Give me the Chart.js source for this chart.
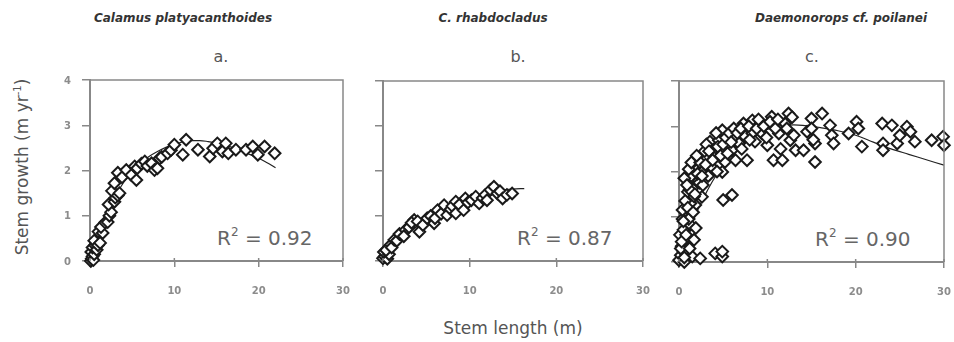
<!DOCTYPE html>
<html>
<head>
<meta charset="utf-8">
<script src="https://cdn.jsdelivr.net/npm/chart.js@4.4.1/dist/chart.umd.min.js"></script>
<style>
  html, body { margin:0; padding:0; background:#fff; }
  #wrap { position:relative; width:954px; height:342px; overflow:hidden; background:#fff; font-family:"DejaVu Sans", Verdana, sans-serif; }
  .abs { position:absolute; white-space:nowrap; }
  .sp { font-weight:bold; font-style:italic; font-size:12px; color:#333; transform:translateX(-50%); }
  .sub { font-size:16px; color:#555; transform:translateX(-50%); }
  .r2 { font-size:20px; color:#666; line-height:24px; }
  .r2 sup { font-size:12px; vertical-align:0; position:relative; top:-9px; }
  canvas { position:absolute; }
</style>
</head>
<body>
<div id="wrap">
  <div class="abs sp" style="left:183px; top:11px;">Calamus platyacanthoides</div>
  <div class="abs sp" style="left:493px; top:11px;">C. rhabdocladus</div>
  <div class="abs sp" style="left:841px; top:11px;">Daemonorops cf. poilanei</div>
  <div class="abs sub" style="left:221px; top:47px;">a.</div>
  <div class="abs sub" style="left:518px; top:47px;">b.</div>
  <div class="abs sub" style="left:812px; top:47px;">c.</div>

  <div class="abs" style="left:22px; top:167px; font-size:17px; color:#555; transform:translate(-50%,-50%) rotate(-90deg);">Stem growth (m yr<span style="font-size:10px; position:relative; top:-7px;">-1</span>)</div>
  <div class="abs" style="left:513px; top:318px; font-size:17px; color:#555; transform:translateX(-50%);">Stem length (m)</div>

  <div class="abs r2" style="left:217px; top:226px;">R<sup>2</sup> = 0.92</div>
  <div class="abs r2" style="left:517px; top:226px;">R<sup>2</sup> = 0.87</div>
  <div class="abs r2" style="left:815px; top:227px;">R<sup>2</sup> = 0.90</div>

  <canvas id="ca" width="315" height="240" style="left:40px; top:70px; width:315px; height:240px;"></canvas>
  <canvas id="cb" width="322" height="240" style="left:333px; top:70px; width:322px; height:240px;"></canvas>
  <canvas id="cc" width="325" height="240" style="left:629px; top:70px; width:325px; height:240px;"></canvas>
</div>
<script>
// ---------- DATA ----------
const xTicks = [0, 10, 20, 30];
const yTicks = [0, 1, 2, 3, 4];

// Panel a: Calamus platyacanthoides
const ptsA_x = [0.1,0.2,0.3,0.15,0.4,0.5,0.3,0.6,0.8,0.5,0.95,1.2,1.0,1.5,1.3,1.8,2.1,2.3,2.5,2.2,2.9,3.0,2.6,3.3,3.5,2.9,3.3,3.8,4.3,4.9,5.3,5.5,5.6,6.1,6.5,6.8,7.3,7.65,8.0,8.25,8.5,9.2,9.6,10.0,11.0,11.4,12.8,14.2,14.6,15.1,15.7,16.1,16.4,17.3,18.5,19.3,19.9,20.7,21.9];
const ptsA_y = [0.0,0.05,0.1,0.2,0.02,0.15,0.3,0.35,0.25,0.45,0.35,0.4,0.65,0.62,0.75,0.85,0.86,1.0,1.08,1.25,1.31,1.4,1.55,1.45,1.5,1.72,1.95,1.85,2.01,1.9,2.09,1.79,2.05,2.15,2.2,2.1,2.16,2.01,2.05,2.27,2.3,2.38,2.45,2.57,2.35,2.68,2.46,2.31,2.49,2.6,2.42,2.6,2.38,2.46,2.46,2.53,2.35,2.53,2.38];
const fitA_x = [0,0.5,1,2,3,4,5,6,7,8,9,10,11,12,13,14,15,16,17,18,19,20,21,22];
const fitA_y = [0,0.3,0.58,1.05,1.43,1.74,1.98,2.17,2.31,2.42,2.51,2.58,2.63,2.66,2.66,2.64,2.61,2.56,2.5,2.43,2.35,2.27,2.17,2.06];

// Panel b: C. rhabdocladus
const ptsB_x = [0.0,0.2,0.5,0.1,0.7,0.35,0.9,1.0,1.3,1.6,2.1,1.9,2.6,2.4,3.0,3.6,3.3,4.2,4.0,4.6,5.1,5.5,5.9,6.0,6.3,6.7,7.05,7.4,7.8,8.0,8.4,8.4,8.8,9.3,9.5,9.8,10.2,10.7,11.1,11.5,11.8,12.0,12.4,12.8,13.2,13.5,13.8,14.3,14.9];
const ptsB_y = [0.06,0.1,0.05,0.2,0.15,0.24,0.36,0.3,0.47,0.45,0.58,0.6,0.69,0.55,0.75,0.91,0.85,0.65,0.88,0.8,0.95,1.0,0.84,0.95,1.13,1.05,1.24,1.02,1.15,1.22,1.32,1.06,1.25,1.13,1.39,1.3,1.35,1.43,1.28,1.4,1.47,1.35,1.58,1.65,1.5,1.55,1.39,1.47,1.5];
const fitB_x = [0,1,2,3,4,5,6,7,8,9,10,11,12,13,14,15,16.3];
const fitB_y = [0.02,0.25,0.45,0.63,0.79,0.93,1.05,1.16,1.25,1.33,1.4,1.46,1.51,1.55,1.58,1.6,1.61];

// Panel c: Daemonorops cf. poilanei
const ptsC_x = [0.0,0.2,0.5,0.3,0.1,0.6,1.5,2.4,4.1,4.9,4.9,0.7,1.7,0.5,1.3,0.9,1.85,1.3,2.6,1.5,2.2,2.0,2.8,3.2,3.9,3.5,4.5,4.9,5.2,4.9,6.0,6.4,6.8,7.7,7.5,7.3,8.3,8.3,9.2,9.4,8.6,10.0,10.7,10.5,11.3,11.7,12.0,12.4,12.6,13.2,0.4,0.8,1.1,1.0,1.4,1.7,2.3,2.5,2.9,3.1,3.4,3.7,4.0,4.2,4.4,4.7,5.0,5.3,5.5,5.7,5.9,6.2,6.6,7.0,7.1,7.9,8.0,8.8,9.0,9.6,9.9,10.3,10.9,11.2,11.5,12.2,12.8,13.0,5.0,6.0,16.2,15.0,14.5,15.0,15.4,14.1,15.4,15.2,17.1,17.3,17.5,19.2,20.1,20.3,20.7,23.0,23.1,23.1,24.1,24.7,25.0,25.8,26.2,26.7,28.6,29.9,30.0,0.2,0.6,1.2,1.9,2.7,3.3,3.8,4.3,0.3,0.5,0.8,0.4,0.7,1.0,1.2,0.6,0.9,1.6,1.1,1.4,1.8,2.1,2.4,2.0,2.6,3.0];
const ptsC_y = [0.04,0.15,0.23,0.35,0.6,0.0,0.12,0.08,0.19,0.12,0.23,0.49,0.49,0.71,0.82,1.04,1.26,1.3,1.44,1.63,1.81,2.03,2.1,2.29,2.47,2.66,2.69,2.91,2.21,1.99,2.47,2.25,2.62,2.25,2.77,3.06,3.13,2.84,3.06,2.84,2.66,2.58,2.25,3.21,2.84,2.25,3.06,3.28,2.69,2.47,0.95,1.2,0.95,1.55,1.9,1.45,1.75,2.0,2.45,2.6,2.45,2.1,2.3,2.85,2.55,2.35,2.6,2.75,2.4,2.85,2.65,2.95,2.85,2.95,2.5,3.0,2.7,2.95,3.15,3.0,2.75,3.1,2.95,3.15,2.5,2.95,3.2,2.8,1.37,1.48,3.28,3.17,2.88,2.95,2.62,2.47,2.21,2.7,3.02,2.8,2.62,2.84,3.1,2.95,2.55,3.06,2.62,2.47,3.02,2.62,2.8,2.99,2.88,2.66,2.69,2.77,2.58,0.3,0.1,0.3,0.75,1.7,1.9,2.25,2.0,0.45,0.9,0.6,1.15,1.35,1.2,1.6,1.85,1.7,1.1,2.05,2.2,1.5,1.95,2.2,2.35,1.9,2.15];
const fitC_x = [0,1,2,3,4,5,6,7,8,9,10,11,12,13,14,15,16,18,20,22,24,26,28,30];
const fitC_y = [0,0.6,1.1,1.5,1.85,2.13,2.37,2.57,2.72,2.84,2.93,2.99,3.02,3.03,3.02,3.0,2.97,2.9,2.8,2.65,2.5,2.38,2.26,2.14];

// ---------- BUILD ----------
const zip = (xs, ys) => xs.map((x, i) => ({ x: x, y: ys[i] }));

// Draws the plot frame (top/right), the inner part of the x ticks, and the tick labels
// at the positions given by the chart's own scales.
const framePlugin = {
  id: 'frame',
  afterDraw(chart, args, opts) {
    const a = chart.chartArea, ctx = chart.ctx;
    const xs = chart.scales.x, ys = chart.scales.y;
    ctx.save();
    ctx.strokeStyle = '#888';
    ctx.lineWidth = 1.5;
    ctx.beginPath();
    ctx.moveTo(a.left, a.top);
    ctx.lineTo(a.right, a.top);
    ctx.lineTo(a.right, a.bottom);
    ctx.stroke();
    ctx.beginPath();
    xTicks.forEach(v => {
      const px = xs.getPixelForValue(v);
      ctx.moveTo(px, a.bottom);
      ctx.lineTo(px, a.bottom - 3);
    });
    ctx.stroke();

    ctx.fillStyle = '#8c8c8c';
    ctx.font = 'bold 10px "DejaVu Sans"';
    ctx.textAlign = 'center';
    ctx.textBaseline = 'middle';
    xTicks.forEach(v => ctx.fillText(String(v), xs.getPixelForValue(v), a.bottom + 30));
    if (opts.yLabels) {
      ctx.textAlign = 'right';
      yTicks.forEach(v => ctx.fillText(String(v), a.left - 19, ys.getPixelForValue(v) + 1));
    }
    ctx.restore();
  }
};

function makePanel(id, px, py, fx, fy, showYLabels, xAxisH, padRight, padTop) {
  new Chart(document.getElementById(id), {
    type: 'scatter',
    data: {
      datasets: [
        {
          data: zip(px, py),
          pointStyle: 'rectRot',
          pointRadius: 5.8,
          pointHoverRadius: 5.8,
          backgroundColor: '#fff',
          borderColor: '#1a1a1a',
          borderWidth: 2,
          clip: false,
          order: 0
        },
        {
          data: zip(fx, fy),
          showLine: true,
          pointRadius: 0,
          borderColor: '#222',
          borderWidth: 1.2,
          cubicInterpolationMode: 'monotone',
          fill: false,
          clip: false,
          order: 1
        }
      ]
    },
    options: {
      responsive: false,
      animation: false,
      devicePixelRatio: 1,
      events: [],
      layout: { autoPadding: false, padding: { top: padTop, right: padRight, left: 0, bottom: 0 } },
      plugins: { legend: { display: false }, tooltip: { enabled: false }, frame: { yLabels: showYLabels } },
      scales: {
        x: {
          type: 'linear', min: xTicks[0], max: xTicks[xTicks.length - 1],
          afterBuildTicks: s => { s.ticks = xTicks.map(v => ({ value: v })); },
          afterFit: s => { s.height = xAxisH; },
          ticks: { display: false },
          grid: { drawOnChartArea: false, drawTicks: true, tickLength: 6, color: '#888', lineWidth: 1.5 },
          border: { color: '#888', width: 2 }
        },
        y: {
          type: 'linear', min: yTicks[0], max: yTicks[yTicks.length - 1],
          afterBuildTicks: s => { s.ticks = yTicks.map(v => ({ value: v })); },
          afterFit: s => { s.width = 50; },
          ticks: { display: false },
          grid: { drawOnChartArea: false, drawTicks: true, tickLength: 8, color: '#888', lineWidth: 1.5 },
          border: { color: '#888', width: 2 }
        }
      }
    },
    plugins: [framePlugin]
  });
}

makePanel('ca', ptsA_x, ptsA_y, fitA_x, fitA_y, true, 49, 12, 10);
makePanel('cb', ptsB_x, ptsB_y, fitB_x, fitB_y, false, 49, 12, 11);
makePanel('cc', ptsC_x, ptsC_y, fitC_x, fitC_y, false, 48, 10, 11);
</script>
</body>
</html>
